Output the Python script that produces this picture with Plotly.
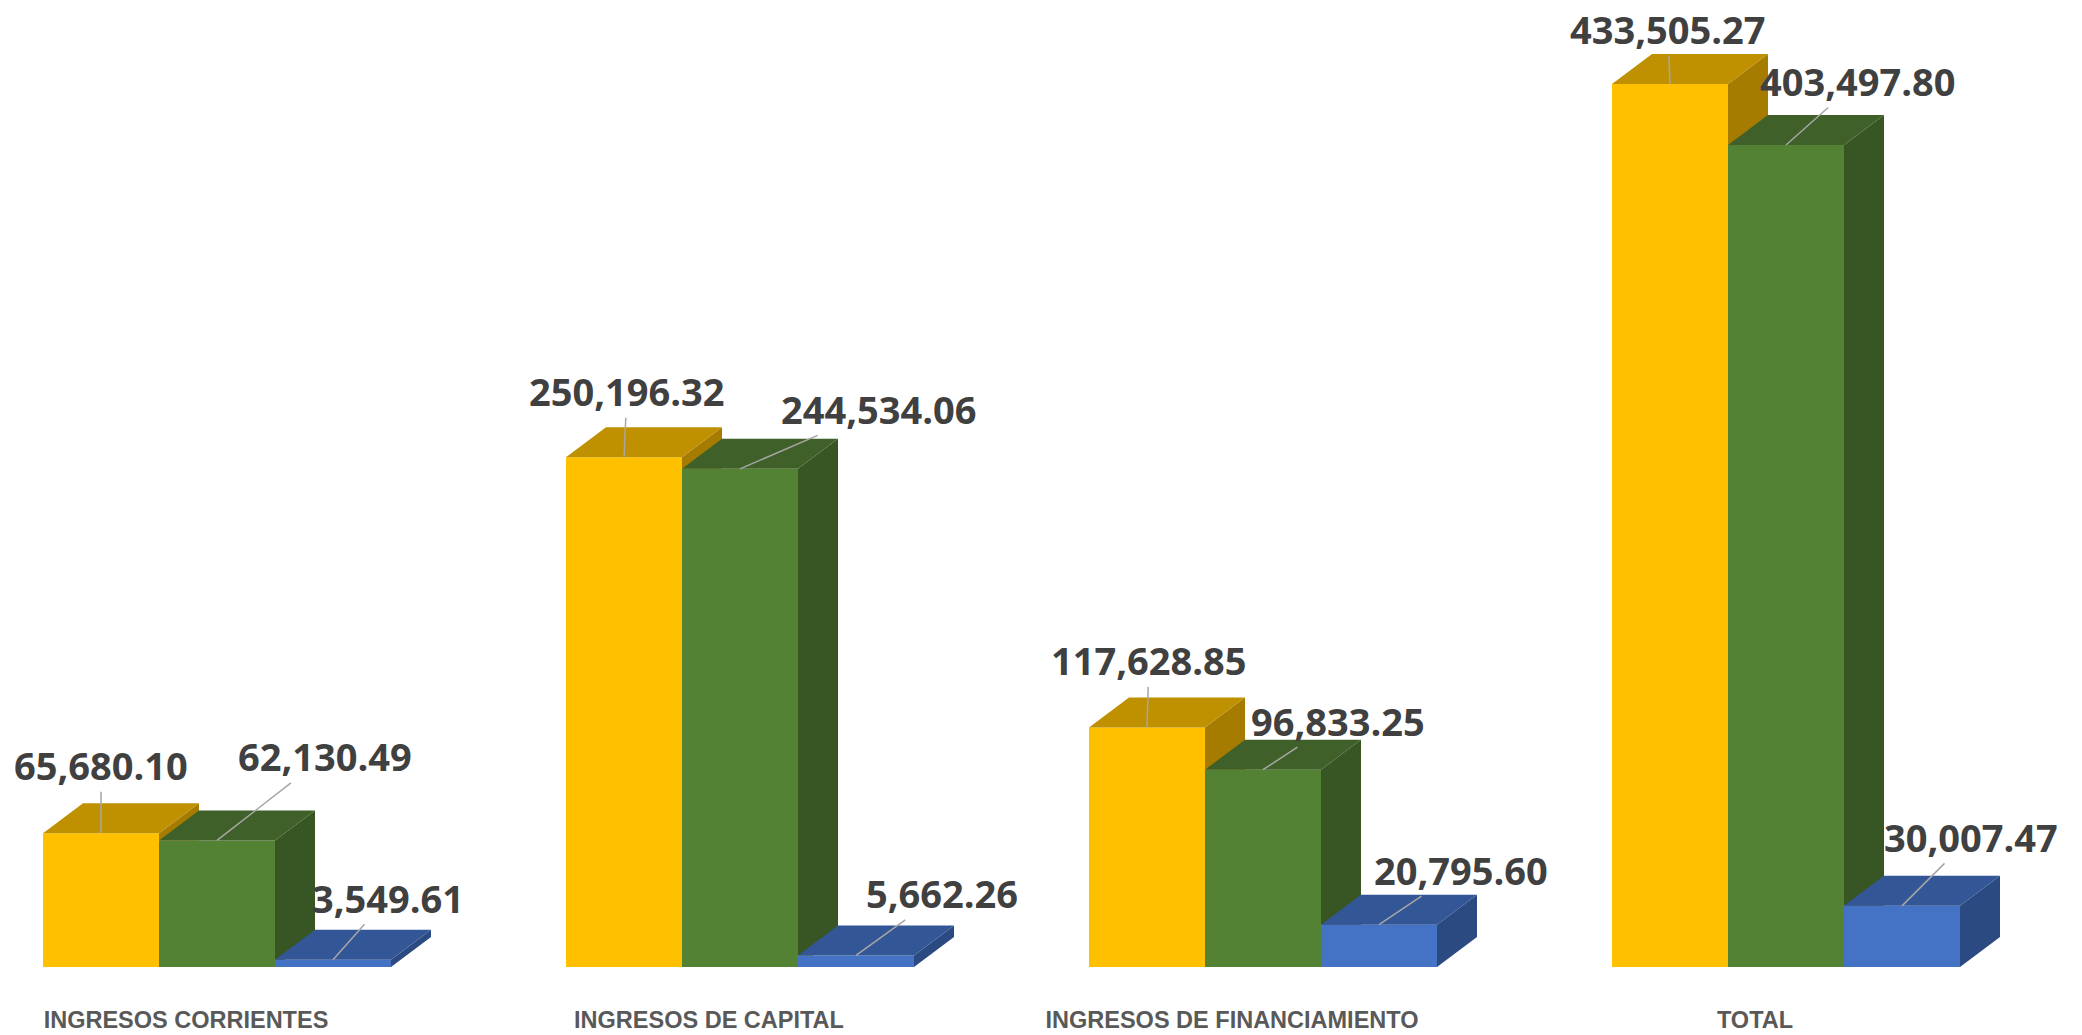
import plotly.graph_objects as go

# ---------------- data ----------------
categories = ["INGRESOS CORRIENTES", "INGRESOS DE CAPITAL",
              "INGRESOS DE FINANCIAMIENTO", "TOTAL"]
presupuesto = [65680.10, 250196.32, 117628.85, 433505.27]
recaudado = [62130.49, 244534.06, 96833.25, 403497.80]
saldo = [3549.61, 5662.26, 20795.60, 30007.47]
series_names = ["Presupuesto", "Recaudado", "Saldo"]

# ---------------- styling ----------------
W_PX, H_PX = 2082, 1035
MARGIN_B = 68
X_ORIGIN_PX = 217
GROUP_PITCH_PX = 523
BAR_PX = 116
DEPTH_X_PX = 40
DEPTH_Y_PX = 30
Y_MAX = 474700

FRONT = ["#FFC000", "#548235", "#4472C4"]
TOP = ["#BF9000", "#3F6129", "#335697"]
SIDE = ["#A67C00", "#375623", "#2B4A82"]

# label offsets in pixels (ax, ay) per series per category
LABEL_OFFSETS = [
    [(0, -68), (3, -66), (2, -67), (-2, -55)],
    [(108, -84), (139, -60), (75, -49), (72, -64)],
    [(55, -62), (86, -62), (82, -55), (69, -69)],
]

values = [presupuesto, recaudado, saldo]
n_cat = len(categories)
xs = list(range(n_cat))

plot_h = H_PX - MARGIN_B
bar_w = BAR_PX / GROUP_PITCH_PX
dxd = DEPTH_X_PX / GROUP_PITCH_PX
dyd = DEPTH_Y_PX * Y_MAX / plot_h
x_range = [-X_ORIGIN_PX / GROUP_PITCH_PX, (W_PX - X_ORIGIN_PX) / GROUP_PITCH_PX]

fig = go.Figure()

# front faces: real bars
for k in range(3):
    fig.add_trace(go.Bar(
        x=xs, y=values[k], name=series_names[k],
        marker=dict(color=FRONT[k], line=dict(width=0)),
        hovertemplate="%{y:,.2f}<extra>" + series_names[k] + "</extra>",
    ))

# side and top faces (computed from the values)
for k in range(3):
    sx, sy, tx, ty = [], [], [], []
    for i in range(n_cat):
        xc = i + (k - 1) * bar_w
        xl, xr = xc - bar_w / 2, xc + bar_w / 2
        v = values[k][i]
        h = values[k + 1][i] if k < 2 else 0.0
        if h >= dyd:
            px = [xr, xr + dxd, xr + dxd, xr]
            py = [h, h, v + dyd, v]
        else:
            px = [xr, xr + dxd * h / dyd, xr + dxd, xr + dxd, xr]
            py = [h, h, dyd, v + dyd, v]
        sx += px + [px[0], None]
        sy += py + [py[0], None]
        qx = [xl, xl + dxd, xr + dxd, xr, xl]
        qy = [v, v + dyd, v + dyd, v, v]
        tx += qx + [None]
        ty += qy + [None]
    fig.add_trace(go.Scatter(x=sx, y=sy, mode="lines", fill="toself",
                             fillcolor=SIDE[k], line=dict(width=0, color=SIDE[k]),
                             hoverinfo="skip", showlegend=False))
    fig.add_trace(go.Scatter(x=tx, y=ty, mode="lines", fill="toself",
                             fillcolor=TOP[k], line=dict(width=0, color=TOP[k]),
                             hoverinfo="skip", showlegend=False))

# data labels with leader lines
annotations = []
for k in range(3):
    for i in range(n_cat):
        ax, ay = LABEL_OFFSETS[k][i]
        annotations.append(dict(
            x=i + (k - 1) * bar_w, y=values[k][i], xref="x", yref="y",
            text=f"{values[k][i]:,.2f}",
            showarrow=True, arrowhead=0, arrowwidth=1.5, arrowcolor="#A6A6A6",
            ax=ax, ay=ay, standoff=0, borderpad=0,
            font=dict(family="Open Sans", size=38, color="#404040", weight="bold"),
        ))

fig.update_layout(
    width=W_PX, height=H_PX,
    margin=dict(l=0, r=0, t=0, b=MARGIN_B),
    paper_bgcolor="white", plot_bgcolor="white",
    barmode="group", bargap=1 - 3 * bar_w, bargroupgap=0,
    showlegend=False,
    annotations=annotations,
    xaxis=dict(range=x_range, showgrid=False, zeroline=False, showline=False,
               tickmode="array", tickvals=xs, ticktext=categories, ticks="",
               ticklabelshift=-31, ticklabelstandoff=36,
               tickfont=dict(family="Liberation Sans", size=23.5, color="#595959",
                             weight="bold")),
    yaxis=dict(range=[0, Y_MAX], visible=False, showgrid=False, zeroline=False),
)

fig.write_html("out.html", config={"displayModeBar": False},
               post_script="document.body.style.margin='0';")
